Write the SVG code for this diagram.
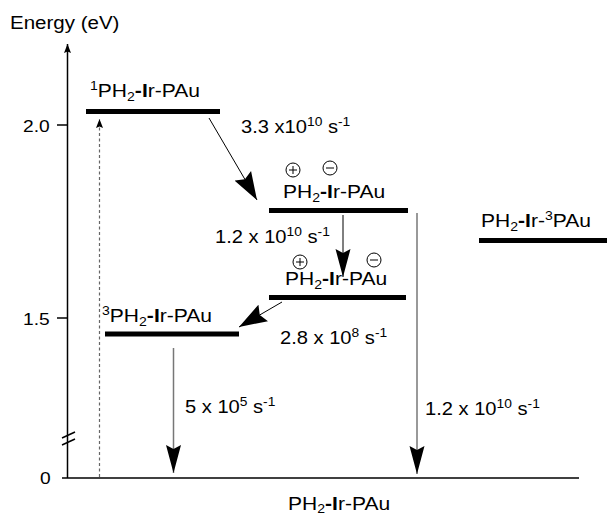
<svg xmlns="http://www.w3.org/2000/svg" width="607" height="518" viewBox="0 0 607 518">
<style>
text{font-family:"Liberation Sans",Arial,sans-serif;fill:#000}
.lbl{font-size:18px}
.rate{font-size:17.5px}
.tick{font-size:16px}
.bar{stroke:#000;stroke-width:5}
.ax{stroke:#000;stroke-width:1.5;fill:none}
.sm{font-size:12px}
.b{font-weight:bold}
.ion{fill:none;stroke:#000;stroke-width:1}
</style>
<defs>
<marker id="head" markerUnits="userSpaceOnUse" markerWidth="30" markerHeight="16" refX="28" refY="8" orient="auto" viewBox="0 0 30 16">
<path d="M0,0.5 L28,8 L0,15.5 L4,8 Z" fill="#000"/>
</marker>
<marker id="headW" markerUnits="userSpaceOnUse" markerWidth="30" markerHeight="20" refX="28" refY="10" orient="auto" viewBox="0 0 30 20">
<path d="M0,0.5 L28,10 L0,19.5 L4,10 Z" fill="#000"/>
</marker>
<marker id="small" markerUnits="userSpaceOnUse" markerWidth="10" markerHeight="8" refX="9" refY="3.5" orient="auto" viewBox="0 0 10 7">
<path d="M0,0 L9,3.5 L0,7 L1.5,3.5 Z" fill="#000"/>
</marker>
</defs>

<g id="axis">
<text transform="translate(10,29) scale(1.08,1)" style="font-size:19px">Energy (eV)</text>
<line class="ax" x1="67.5" y1="478" x2="67.5" y2="44" marker-end="url(#small)"/>
<line class="ax" x1="57" y1="125" x2="67.5" y2="125"/>
<line class="ax" x1="57" y1="318" x2="67.5" y2="318"/>
<line class="ax" x1="62" y1="478" x2="579" y2="478"/>
<line class="ax" x1="62" y1="438" x2="75" y2="432" stroke-width="1.2"/>
<line class="ax" x1="62" y1="445" x2="75" y2="439" stroke-width="1.2"/>
<text class="tick" transform="translate(23,132) scale(1.2,1)">2.0</text>
<text class="tick" transform="translate(23,325) scale(1.2,1)">1.5</text>
<text class="tick" transform="translate(40,484) scale(1.2,1)">0</text>
</g>

<g id="connectors">
<line x1="99.5" y1="477" x2="99.5" y2="119" stroke="#666" stroke-width="1.2" stroke-dasharray="3,2.5" marker-end="url(#small)"/>
<line x1="209" y1="118" x2="257" y2="200" stroke="#000" stroke-width="1" marker-end="url(#headW)"/>
<line x1="343" y1="215" x2="343" y2="277" stroke="#000" stroke-width="1" marker-end="url(#head)"/>
<line x1="282" y1="302" x2="239" y2="327" stroke="#000" stroke-width="1" marker-end="url(#headW)"/>
<line x1="173.5" y1="348" x2="173.5" y2="473" stroke="#777" stroke-width="1.5" marker-end="url(#head)"/>
<line x1="417" y1="213" x2="417" y2="474" stroke="#777" stroke-width="1.5" marker-end="url(#head)"/>
<text class="rate" transform="translate(241,133) scale(1.15,1)">3.3 x10<tspan class="sm" dy="-7">10</tspan><tspan dy="7"> s</tspan><tspan class="sm" dy="-7">-1</tspan></text>
<text class="rate" transform="translate(215,243) scale(1.15,1)">1.2 x 10<tspan class="sm" dy="-7">10</tspan><tspan dy="7"> s</tspan><tspan class="sm" dy="-7">-1</tspan></text>
<text class="rate" transform="translate(280,344) scale(1.15,1)">2.8 x 10<tspan class="sm" dy="-7">8</tspan><tspan dy="7"> s</tspan><tspan class="sm" dy="-7">-1</tspan></text>
<text class="rate" transform="translate(185,413) scale(1.15,1)">5 x 10<tspan class="sm" dy="-7">5</tspan><tspan dy="7"> s</tspan><tspan class="sm" dy="-7">-1</tspan></text>
<text class="rate" transform="translate(425,415) scale(1.15,1)">1.2 x 10<tspan class="sm" dy="-7">10</tspan><tspan dy="7"> s</tspan><tspan class="sm" dy="-7">-1</tspan></text>
</g>

<g id="S1">
<line class="bar" x1="86" y1="111.5" x2="220" y2="111.5"/>
<text class="lbl" transform="translate(90,97) scale(1.17,1)"><tspan class="sm" dy="-7">1</tspan><tspan dy="7">PH</tspan><tspan class="sm" dy="4">2</tspan><tspan class="b" dy="-4">-I</tspan>r-PAu</text>
</g>

<g id="CT1">
<line class="bar" x1="269" y1="210.5" x2="408" y2="210.5"/>
<text class="lbl" transform="translate(283,198) scale(1.17,1)">PH<tspan class="sm" dy="4">2</tspan><tspan class="b" dy="-4">-I</tspan>r-PAu</text>
<circle class="ion" cx="293" cy="170" r="7"/>
<path class="ion" d="M289,170 H297 M293,166 V174"/>
<circle class="ion" cx="330" cy="168" r="7"/>
<path class="ion" d="M326,168 H334"/>
</g>

<g id="CT2">
<line class="bar" x1="269" y1="297.5" x2="406" y2="297.5"/>
<text class="lbl" transform="translate(285,285) scale(1.17,1)">PH<tspan class="sm" dy="4">2</tspan><tspan class="b" dy="-4">-I</tspan>r-PAu</text>
<circle class="ion" cx="300" cy="262" r="7"/>
<path class="ion" d="M296,262 H304 M300,258 V266"/>
<circle class="ion" cx="374" cy="260" r="7"/>
<path class="ion" d="M370,260 H378"/>
</g>

<g id="T1">
<line class="bar" x1="105" y1="334" x2="239" y2="334"/>
<text class="lbl" transform="translate(102,322) scale(1.17,1)"><tspan class="sm" dy="-7">3</tspan><tspan dy="7">PH</tspan><tspan class="sm" dy="4">2</tspan><tspan class="b" dy="-4">-I</tspan>r-PAu</text>
</g>

<g id="T2">
<line class="bar" x1="479" y1="240.5" x2="607" y2="240.5"/>
<text class="lbl" transform="translate(481,227) scale(1.17,1)">PH<tspan class="sm" dy="4">2</tspan><tspan class="b" dy="-4">-I</tspan>r-<tspan class="sm" dy="-7">3</tspan><tspan dy="7">PAu</tspan></text>
</g>

<g id="S0">
<text class="lbl" transform="translate(288,510) scale(1.17,1)">PH<tspan class="sm" dy="3">2</tspan><tspan class="b" dy="-3">-I</tspan>r-PAu</text>
</g>
</svg>
